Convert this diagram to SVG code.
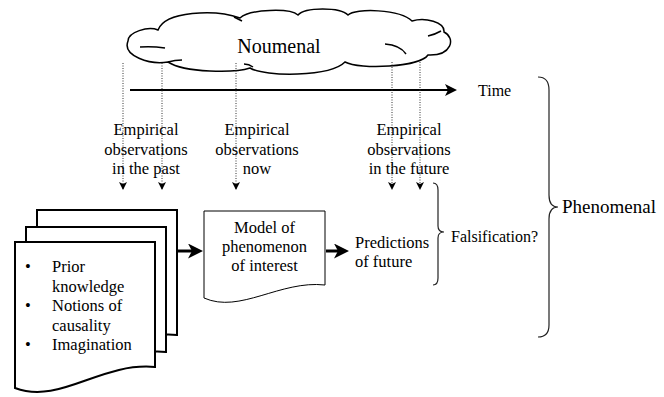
<svg xmlns="http://www.w3.org/2000/svg" width="664" height="397" viewBox="0 0 664 397" font-family="'Liberation Serif', 'DejaVu Serif', 'Times New Roman', serif">
<style>
text{font-family:'Liberation Serif','DejaVu Serif','Times New Roman',serif;fill:#000}
.t16{font-size:16.5px}
.mid{text-anchor:middle}
.shape{fill:#fff;stroke:#000}
.dot{stroke:#333;stroke-width:1;stroke-dasharray:1 1.5;fill:none}
.brace{fill:none;stroke:#222;stroke-width:1.2}
</style>
<defs>
<marker id="ahThick" viewBox="0 0 15 15" markerWidth="15" markerHeight="15" refX="11" refY="7.5" orient="auto" markerUnits="userSpaceOnUse"><path d="M0,0 L15,7.5 L0,15 L4,7.5 Z" fill="#000"/></marker>
<marker id="ahTime" viewBox="0 0 12 12" markerWidth="12" markerHeight="12" refX="9" refY="6" orient="auto" markerUnits="userSpaceOnUse"><path d="M0,0 L12,6 L0,12 L3,6 Z" fill="#000"/></marker>
<marker id="ahDot" viewBox="0 0 8 8" markerWidth="8" markerHeight="8" refX="7" refY="4" orient="auto" markerUnits="userSpaceOnUse"><path d="M0,0 L8,4 L0,8 L2,4 Z" fill="#000"/></marker>
<path id="page" d="M0,0 H140 V125 C85,120 45,163 0,146 Z"/>
</defs>

<g id="cloud">
<path class="shape" stroke-width="1.5" d="M128,41 C128,32 148,26 158,30 C165,11 215,9 240,18 C250,9 290,8 298,15 C305,7 340,7 348,15 C355,8 400,9 412,21 C425,17 445,22 444,32 C456,38 452,56 428,55 C420,67 360,70 345,62 C330,77 265,77 250,68 C235,73 185,73 168,62 C150,65 122,56 128,41 Z"/>
<path fill="none" stroke="#000" stroke-width="1.5" d="M140,47 Q152,46 165,48 M168,62 Q175,60 182,60 M234,17 Q238,19 242,21 M244,64 Q249,64 253,67 M428,36 Q436,34 441,31 M385,44 Q400,45 406,54"/>
<text x="279" y="53" class="mid" font-size="20">Noumenal</text>
</g>

<g id="connectors">
<line x1="130" y1="90" x2="454" y2="90" stroke="#000" stroke-width="2" marker-end="url(#ahTime)"/>
<line class="dot" x1="123" y1="63" x2="123" y2="189" marker-end="url(#ahDot)"/>
<line class="dot" x1="162" y1="63" x2="162" y2="189" marker-end="url(#ahDot)"/>
<line class="dot" x1="236" y1="63" x2="236" y2="189" marker-end="url(#ahDot)"/>
<line class="dot" x1="392" y1="62" x2="392" y2="189" marker-end="url(#ahDot)"/>
<line class="dot" x1="420" y1="62" x2="420" y2="189" marker-end="url(#ahDot)"/>
<line x1="178" y1="251" x2="199" y2="251" stroke="#000" stroke-width="3" marker-end="url(#ahThick)"/>
<line x1="326" y1="251" x2="345" y2="251" stroke="#000" stroke-width="3" marker-end="url(#ahThick)"/>
</g>

<g id="time"><text x="478" y="96" font-size="16">Time</text></g>

<g id="obs-past" class="t16">
<text x="146" y="135" class="mid">Empirical</text>
<text x="146" y="154.5" class="mid">observations</text>
<text x="146" y="174" class="mid">in the past</text>
</g>
<g id="obs-now" class="t16">
<text x="257" y="135" class="mid">Empirical</text>
<text x="257" y="154.5" class="mid">observations</text>
<text x="257" y="174" class="mid">now</text>
</g>
<g id="obs-future" class="t16">
<text x="409" y="135" class="mid">Empirical</text>
<text x="409" y="154.5" class="mid">observations</text>
<text x="409" y="174" class="mid">in the future</text>
</g>

<g id="documents">
<use href="#page" x="37" y="210" class="shape" stroke-width="2"/>
<use href="#page" x="26" y="227" class="shape" stroke-width="2"/>
<use href="#page" x="15" y="242" class="shape" stroke-width="2"/>
<g class="t16">
<text x="25" y="272">•</text><text x="52" y="272">Prior</text>
<text x="52" y="291.5">knowledge</text>
<text x="25" y="311">•</text><text x="52" y="311">Notions of</text>
<text x="52" y="330.5">causality</text>
<text x="25" y="350">•</text><text x="52" y="350">Imagination</text>
</g>
</g>

<g id="model">
<path class="shape" stroke-width="1" d="M204,211 H325 V285 C280,280 240,314 204,298 Z"/>
<g class="t16">
<text x="264.5" y="233" class="mid">Model of</text>
<text x="264.5" y="252" class="mid">phenomenon</text>
<text x="264.5" y="271" class="mid">of interest</text>
</g>
</g>

<g id="predictions" class="t16">
<text x="355" y="248">Predictions</text>
<text x="355" y="267">of future</text>
</g>

<g id="falsification">
<path class="brace" d="M433,183 Q438,183 438,190 V226 Q438,232 444,232 Q438,232 438,238 V278 Q438,285 433,285"/>
<text x="451" y="242" font-size="16">Falsification?</text>
</g>

<g id="phenomenal">
<path class="brace" d="M538,77 Q549,77 549,90 V195 Q549,207 558,207 Q549,207 549,219 V325 Q549,337 538,337"/>
<text x="562" y="213" font-size="19">Phenomenal</text>
</g>
</svg>
